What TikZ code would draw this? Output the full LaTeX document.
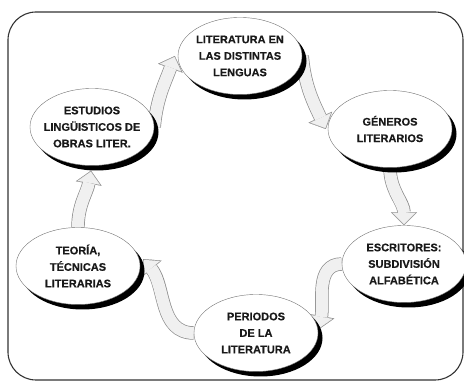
\documentclass[tikz,border=0pt]{standalone}
\usepackage{fontspec}
\setmainfont{Liberation Sans}[BoldFeatures={FakeBold=0.4}]
\usetikzlibrary{shapes.geometric,shadows,arrows.meta}
\pgfdeclarelayer{bg}
\pgfsetlayers{bg,main}
\definecolor{arrowfill}{RGB}{240,240,240}
\definecolor{arrowline}{RGB}{140,140,140}

\begin{document}
\begin{tikzpicture}[x=1pt,y=1pt,
    topic/.style={ellipse, draw=black!55, line width=0.4pt, fill=white, inner sep=-15pt,
        minimum width=124pt, minimum height=77pt, align=center,
        font=\fontsize{11}{16.5}\selectfont\bfseries, text=black!90,
        drop shadow={shadow xshift=4.5pt, shadow yshift=-5pt, fill=black, opacity=1}},
    flowrim/.style={draw=arrowline, line width=13.4pt,
        -{Triangle[length=13pt,width=26pt,line width=0.1pt]}},
    flowbody/.style={draw=arrowfill, line width=12pt, shorten >=1pt,
        -{Triangle[length=11.3pt,width=22.6pt,line width=0.1pt]}}]
    \useasboundingbox (0,0) rectangle (464,383);

    %Frame
    \draw [black!80, line width=1.1pt, rounded corners=28pt] (8,3) rectangle (463,371);

    %Topics
    \node [topic] (lit) at (240,327) {LITERATURA EN\\LAS DISTINTAS\\LENGUAS};
    \node [topic] (gen) at (390,254) {GÉNEROS\\LITERARIOS};
    \node [topic] (esc) at (404,119) {ESCRITORES:\\SUBDIVISIÓN\\ALFABÉTICA};
    \node [topic] (per) at (256,50) {PERIODOS\\DE LA\\LITERATURA};
    \node [topic] (teo) at (78,117) {TEORÍA,\\TÉCNICAS\\LITERARIAS};
    \node [topic] (est) at (92,256) {ESTUDIOS\\LINGÜISTICOS DE\\OBRAS LITER.};

    %Arrow ends
    \coordinate (t1) at ([xshift=-3pt]lit.west);
    \coordinate (t2) at ([xshift=-2pt]gen.west);
    \coordinate (t4) at ([shift={(1pt,4pt)}]per.east);
    \coordinate (t5) at ([shift={(3pt,7pt)}]teo.east);
    \coordinate (t6) at ([shift={(-1pt,-5pt)}]est.south);

    %Arrows
    \begin{pgfonlayer}{bg}
    \foreach \src/\dst/\o/\i in {est.east/t1/85/-110, lit.east/t2/-85/115,
        gen.south/esc.north/-90/90, esc.west/t4/180/80,
        per.west/t5/180/-50, teo.north/t6/90/-100}{
        \draw [flowrim] (\src) to[out=\o,in=\i] (\dst);
        \draw [flowbody] (\src) to[out=\o,in=\i] (\dst);
    }
    \end{pgfonlayer}
\end{tikzpicture}
\end{document}
